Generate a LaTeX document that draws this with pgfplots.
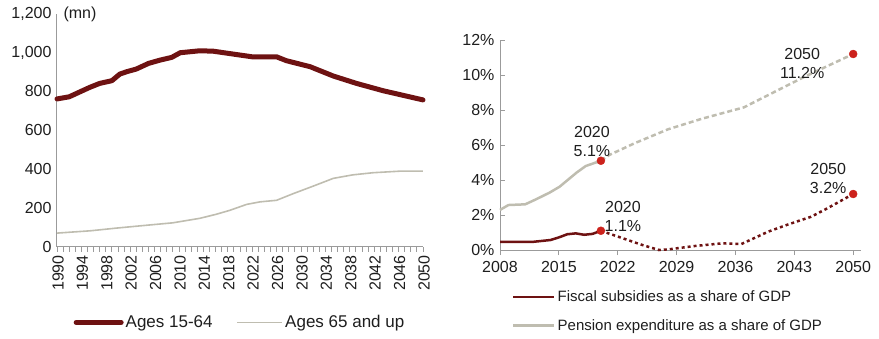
\documentclass[border=0pt]{standalone}
\usepackage{fontspec}
\setmainfont{Liberation Sans}
\usepackage{pgfplots}
\pgfplotsset{compat=1.18}
\definecolor{dred}{RGB}{110,18,18}
\definecolor{lgrey}{RGB}{191,189,176}
\definecolor{dotred}{RGB}{204,34,28}
\definecolor{axgrey}{RGB}{155,155,155}
\definecolor{txt}{RGB}{30,30,30}
\begin{document}
\begin{tikzpicture}
\useasboundingbox (0pt,0pt) rectangle (879pt,338pt);
\pgfplotsset{
  every axis/.append style={
    scale only axis,
    axis x line*=bottom, axis y line*=left,
    axis line style={axgrey, line width=1pt},
    every tick/.style={axgrey, line width=0.8pt},
    font=\fontsize{16}{19}\selectfont,
    ticklabel style={txt},
    /pgf/number format/assume math mode=true,
    clip=false,
  }
}
% ---------------- left chart ----------------
\begin{axis}[
  at={(57pt,91.3pt)}, anchor=south west,
  width=366pt, height=233pt,
  xmin=1990, xmax=2050, ymin=0, ymax=1200,
  ytick={0,200,...,1200},
  xtick={1990,1994,...,2050},
  minor xtick={1990,1991,...,2050},
  xtick align=outside, major tick length=5pt, minor tick length=5pt,
  ytick style={draw=none},
  yticklabel style={/pgf/number format/1000 sep={,}, xshift=-2pt},
  xticklabel style={rotate=90, anchor=east, yshift=-1pt, /pgf/number format/1000 sep={}},
  legend columns=2,
  legend style={at={(0.5,-0.325)}, anchor=center, draw=none, fill=none,
    font=\fontsize{17}{20}\selectfont, text=txt,
    /tikz/every even column/.append style={column sep=22pt}},
  legend image code/.code={\draw[#1] (0pt,0pt) -- (45pt,0pt);},
]
\addplot[dred, line width=5pt, line join=round, line cap=round] coordinates {
(1990,761)(1992,772)(1993.8,798)(1995.4,821)(1997,841)(1999,855)(2000.3,889)
(2001.4,901)(2003,915)(2005,944)(2006.9,961)(2008.8,975)(2010.2,999)
(2013.4,1009)(2015.6,1007)(2018.9,992)(2022,978)(2026,978)(2027.6,958)
(2031.5,927)(2035.3,879)(2039.1,841)(2043.5,803)(2050,756)};
\addlegendentry{Ages 15-64}
\addplot[lgrey, line width=1.6pt, line join=round] coordinates {
(1990,70)(1995.5,82)(1999.8,96)(2005.2,112)(2009,123)(2013.4,146)(2016.1,167)
(2018.3,187)(2021.1,218)(2023.3,231)(2026,239)(2028.7,273)(2032,312)
(2035.3,352)(2038.5,370)(2041.8,381)(2046.2,389)(2050,389)};
\addlegendentry{Ages 65 and up}
\node[anchor=west, txt, xshift=3pt, yshift=-1pt] at (axis cs:1990,1200) {(mn)};
\end{axis}
% ---------------- right chart ----------------
\begin{axis}[
  at={(500pt,88pt)}, anchor=south west,
  width=361pt, height=210pt,
  xmin=2008, xmax=2050.93, ymin=0, ymax=12,
  xtick={2008,2015,...,2050}, ytick={0,2,...,12},
  xtick align=outside, ytick align=inside, major tick length=5pt,
  yticklabel={\pgfmathprintnumber{\tick}\%},
  yticklabel style={xshift=-2pt},
  xticklabel style={yshift=-3pt, /pgf/number format/1000 sep={}},
  legend cell align=left,
  legend style={at={(0.025,-0.175)}, anchor=north west, draw=none, fill=none,
    font=\fontsize{15}{18}\selectfont, text=txt, row sep=12pt},
  legend image code/.code={\draw[#1] (0pt,0pt) -- (41pt,0pt);},
]
\addplot[dred, line width=2.5pt, line join=round] coordinates {
(2008,0.47)(2012,0.47)(2014,0.57)(2015,0.72)(2016,0.9)(2017,0.95)(2018,0.87)
(2019,0.92)(2020,1.1)};
\addlegendentry{Fiscal subsidies as a share of GDP}
\addplot[lgrey, line width=2.5pt, line join=round] coordinates {
(2008,2.29)(2009,2.57)(2011,2.61)(2012.3,2.9)(2013.9,3.28)(2015.1,3.62)
(2017.1,4.42)(2018.2,4.8)(2019.4,5.0)(2020,5.1)};
\addlegendentry{Pension expenditure as a share of GDP}
\addplot[dred, line width=2.5pt, dash pattern=on 3pt off 3pt, forget plot] coordinates {
(2020,1.1)(2022.6,0.67)(2024.9,0.29)(2026.9,0.0)(2028.1,0.04)(2031.2,0.23)
(2034.4,0.38)(2036.7,0.34)(2039.9,1.05)(2042.2,1.45)(2045,1.9)(2047,2.4)(2050,3.2)};
\addplot[lgrey, line width=2.5pt, dash pattern=on 5pt off 3pt, forget plot] coordinates {
(2020,5.1)(2021,5.43)(2024,6.1)(2028,6.9)(2032,7.5)(2037,8.15)(2044,9.85)(2050,11.2)};
\addplot[only marks, mark=*, mark size=4pt, dotred, forget plot] coordinates {
(2020,5.1)(2050,11.2)(2020,1.1)(2050,3.2)};
\node[align=center, txt, inner sep=0pt, xshift=-9pt, yshift=19pt] at (axis cs:2020,5.1) {2020\\5.1\%};
\node[align=center, txt, inner sep=0pt, xshift=-51pt, yshift=-9pt] at (axis cs:2050,11.2) {2050\\11.2\%};
\node[align=center, txt, inner sep=0pt, xshift=22pt, yshift=14pt] at (axis cs:2020,1.1) {2020\\1.1\%};
\node[align=center, txt, inner sep=0pt, xshift=-25pt, yshift=16pt] at (axis cs:2050,3.2) {2050\\3.2\%};
\end{axis}
\end{tikzpicture}
\end{document}
